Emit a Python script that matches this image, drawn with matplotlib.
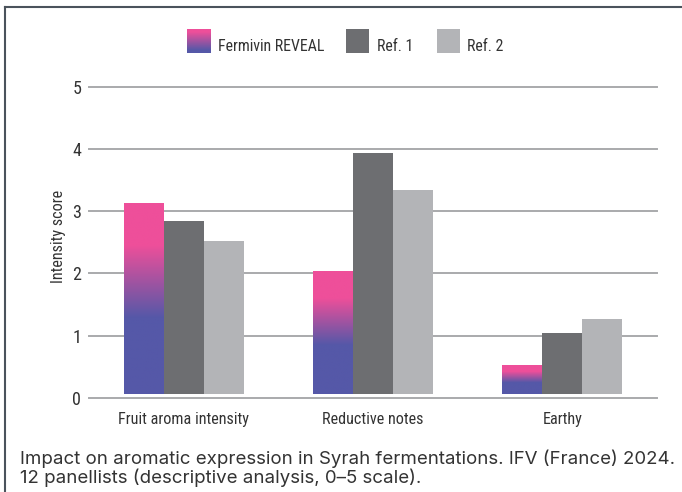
import matplotlib
matplotlib.use("Agg")
import matplotlib.pyplot as plt
import numpy as np
from matplotlib.colors import LinearSegmentedColormap
from matplotlib.lines import Line2D

# ---------------- data ----------------
categories = ["Fruit aroma intensity", "Reductive notes", "Earthy"]
series_names = ["Fermivin REVEAL", "Ref. 1", "Ref. 2"]
fermivin = [3.13, 2.04, 0.53]
ref1 = [2.84, 3.94, 1.04]
ref2 = [2.52, 3.34, 1.26]
y_ticks = [0, 1, 2, 3, 4, 5]
y_label = "Intensity score"
caption_lines = [
    "Impact on aromatic expression in Syrah fermentations. IFV (France) 2024.",
    "12 panellists (descriptive analysis, 0\u20135 scale).",
]

# ---------------- style ----------------
PINK = "#EE4F9A"
BLUE = "#5558A8"
REF1_C = "#6D6E71"
REF2_C = "#B3B4B7"
GRID_C = "#A9AAAC"
TEXT_C = "#333333"
FRAME_C = "#4B535C"
COND = "Roboto Condensed"
CAP = "Inter"

W, H = 682, 492
fig = plt.figure(figsize=(W / 100, H / 100), dpi=100)

def fx(px):
    return px / W

def fy(py):
    return 1 - py / H

# axes placement (pixels)
ax_l, ax_r, ax_t, ax_b = 89, 657, 87, 397.7
ax = fig.add_axes([fx(ax_l), fy(ax_b), fx(ax_r - ax_l), (ax_b - ax_t) / H])
ax.set_xlim(-0.5, 2.5)
ax.set_ylim(0, 5)
for s in ax.spines.values():
    s.set_visible(False)

bar_w = 0.211
base = 0.066  # bars float slightly above the baseline
x = np.arange(len(categories))

grad_cmap = LinearSegmentedColormap.from_list(
    "fv", [(0.0, BLUE), (0.40, BLUE), (0.78, PINK), (1.0, PINK)])
grad = np.linspace(0, 1, 256).reshape(-1, 1)

for yv in y_ticks[1:]:
    ax.axhline(yv, color=GRID_C, lw=1.4, clip_on=False, zorder=1)
ax.axhline(0, color=GRID_C, lw=1.4, clip_on=False, zorder=1)

vals_f = np.array(fermivin)
bars_f = ax.bar(x - bar_w, vals_f - base, bottom=base, width=bar_w,
                color="none", edgecolor="none", align="center", zorder=2)
for p in bars_f:
    x0, y0 = p.get_x(), p.get_y()
    im = ax.imshow(grad, cmap=grad_cmap, origin="lower", aspect="auto",
                   extent=[x0, x0 + p.get_width(), y0, y0 + p.get_height()],
                   zorder=2, interpolation="bilinear")
    im.set_clip_path(p)
ax.set_xlim(-0.5, 2.5)
ax.set_ylim(0, 5)

ax.bar(x, np.array(ref1) - base, bottom=base, width=bar_w, color=REF1_C,
       zorder=2, linewidth=0)
ax.bar(x + bar_w, np.array(ref2) - base, bottom=base, width=bar_w, color=REF2_C,
       zorder=2, linewidth=0)

ax.set_yticks(y_ticks)
ax.set_yticklabels([str(v) for v in y_ticks], family=COND, fontsize=13, color=TEXT_C)
ax.set_xticks(x)
ax.set_xticklabels(categories, family=COND, fontsize=11.6, color=TEXT_C)
ax.tick_params(axis="y", length=0, pad=5.5)
ax.tick_params(axis="x", length=0, pad=10.5)

fig.text(fx(58), fy(236), y_label, rotation=90, ha="center", va="center",
         family=COND, fontsize=11.6, color=TEXT_C)

# legend (manual)
sw_y0, sw_y1 = 29, 52.7
sw = [(187.3, 211), (346, 369), (437.3, 460)]
txt_x = [217.7, 376.7, 467.3]
legend_grad = LinearSegmentedColormap.from_list(
    "lg", [(0.0, BLUE), (0.12, BLUE), (0.88, PINK), (1.0, PINK)])
lax = fig.add_axes([fx(sw[0][0]), fy(sw_y1), fx(sw[0][1] - sw[0][0]), (sw_y1 - sw_y0) / H])
lax.imshow(grad, cmap=legend_grad, origin="lower", aspect="auto", extent=[0, 1, 0, 1])
lax.set_axis_off()
for (a, b), c in zip(sw[1:], [REF1_C, REF2_C]):
    fig.patches.append(plt.Rectangle((fx(a), fy(sw_y1)), fx(b - a), (sw_y1 - sw_y0) / H,
                                     transform=fig.transFigure, color=c, lw=0))
for tx, name in zip(txt_x, series_names):
    fig.text(fx(tx), fy(50.7), name, ha="left", va="baseline", family=COND,
             fontsize=11.4, color=TEXT_C)

# frame (top and left edges)
fig.add_artist(Line2D([fx(5), 1.0], [fy(6.7), fy(6.7)], transform=fig.transFigure,
                      color=FRAME_C, lw=1.5))
fig.add_artist(Line2D([fx(5), fx(5)], [fy(6.7), 0.0], transform=fig.transFigure,
                      color=FRAME_C, lw=1.5))

# caption
fig.text(fx(20), fy(464), caption_lines[0], ha="left", va="baseline", family=CAP,
         fontsize=13.45, color=TEXT_C)
fig.text(fx(20), fy(483), caption_lines[1], ha="left", va="baseline", family=CAP,
         fontsize=13.45, color=TEXT_C)

fig.savefig("out.png", dpi=100)
